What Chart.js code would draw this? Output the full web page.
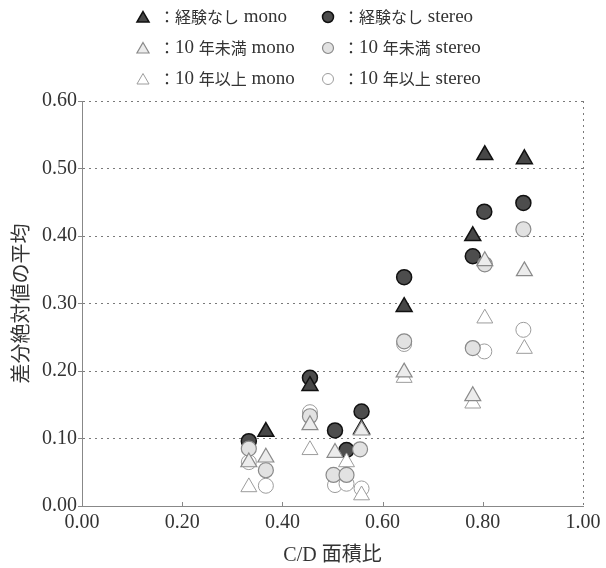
<!DOCTYPE html>
<html>
<head>
<meta charset="utf-8">
<script src="https://cdn.jsdelivr.net/npm/chart.js@4/dist/chart.umd.min.js"></script>
<style>
  html, body { margin: 0; padding: 0; background: #fff; }
  canvas { display: block; }
</style>
</head>
<body>
<canvas id="chart" width="606" height="568"></canvas>
<script>
// Axis ranges (C/D area ratio vs mean absolute difference)
const xTickStep = 0.2;
const yTickStep = 0.1;
const xRange = [0, 1];
const yRange = [0, 0.6];

// Series labels (legend order, row by row)
const seriesLabels = [
  '：経験なし mono',
  '：経験なし stereo',
  '：10 年未満 mono',
  '：10 年未満 stereo',
  '：10 年以上 mono',
  '：10 年以上 stereo'
];

// 経験なし mono
const noneMonoX = [0.367, 0.455, 0.558, 0.643, 0.780, 0.804, 0.883];
const noneMonoY = [0.110, 0.178, 0.114, 0.295, 0.400, 0.520, 0.514];
// 経験なし stereo
const noneStereoX = [0.333, 0.455, 0.505, 0.528, 0.558, 0.643, 0.780, 0.803, 0.881];
const noneStereoY = [0.096, 0.190, 0.112, 0.083, 0.140, 0.339, 0.370, 0.436, 0.449];
// 10 年未満 mono
const under10MonoX = [0.333, 0.367, 0.455, 0.505, 0.558, 0.643, 0.780, 0.804, 0.883];
const under10MonoY = [0.065, 0.072, 0.120, 0.079, 0.112, 0.198, 0.163, 0.363, 0.348];
// 10 年未満 stereo
const under10StereoX = [0.333, 0.367, 0.455, 0.502, 0.528, 0.555, 0.643, 0.780, 0.804, 0.881];
const under10StereoY = [0.085, 0.053, 0.133, 0.046, 0.046, 0.084, 0.244, 0.234, 0.358, 0.410];
// 10 年以上 mono
const over10MonoX = [0.333, 0.455, 0.528, 0.558, 0.643, 0.780, 0.804, 0.883];
const over10MonoY = [0.028, 0.083, 0.065, 0.016, 0.190, 0.152, 0.278, 0.233];
// 10 年以上 stereo
const over10StereoX = [0.333, 0.367, 0.455, 0.505, 0.528, 0.558, 0.643, 0.803, 0.881];
const over10StereoY = [0.065, 0.030, 0.139, 0.031, 0.033, 0.026, 0.240, 0.229, 0.261];

const toPoints = (xs, ys) => xs.map((x, i) => ({ x: x, y: ys[i] }));

const SERIF = "'Liberation Serif', 'Noto Sans CJK JP', serif";
const CJK = "'Noto Sans CJK JP', sans-serif";
const TEXT = '#333';
const AXIS = '#888';

const styles = [
  { pointStyle: 'triangle', radius: 9.2, bg: '#474747', border: '#111', bw: 1.5, order: 3 },
  { pointStyle: 'circle',   radius: 7.5, bg: '#4d4d4d', border: '#111', bw: 1.5, order: 3 },
  { pointStyle: 'triangle', radius: 9.2, bg: '#ececec', border: '#8a8a8a', bw: 1.2, order: 1 },
  { pointStyle: 'circle',   radius: 7.5, bg: '#e2e2e2', border: '#8a8a8a', bw: 1.2, order: 1 },
  { pointStyle: 'triangle', radius: 9.2, bg: '#ffffff', border: '#9c9c9c', bw: 1.0, order: 2 },
  { pointStyle: 'circle',   radius: 7.5, bg: '#ffffff', border: '#9c9c9c', bw: 1.0, order: 2 }
];

const seriesData = [
  toPoints(noneMonoX, noneMonoY),
  toPoints(noneStereoX, noneStereoY),
  toPoints(under10MonoX, under10MonoY),
  toPoints(under10StereoX, under10StereoY),
  toPoints(over10MonoX, over10MonoY),
  toPoints(over10StereoX, over10StereoY)
];

const datasets = seriesData.map((pts, i) => ({
  label: seriesLabels[i],
  data: pts,
  showLine: false,
  pointStyle: styles[i].pointStyle,
  pointRadius: styles[i].radius,
  pointHoverRadius: styles[i].radius,
  backgroundColor: styles[i].bg,
  borderColor: styles[i].border,
  pointBorderWidth: styles[i].bw,
  borderWidth: styles[i].bw,
  order: styles[i].order
}));

// Marker glyph for the legend block
function drawMarker(ctx, style, r, x, y) {
  ctx.save();
  ctx.fillStyle = style.bg;
  ctx.strokeStyle = style.border;
  ctx.lineWidth = style.bw;
  ctx.beginPath();
  if (style.pointStyle === 'triangle') {
    for (let k = 0; k < 3; k++) {
      const a = k * 2 * Math.PI / 3;
      const px = x + Math.sin(a) * r;
      const py = y - Math.cos(a) * r;
      if (k === 0) ctx.moveTo(px, py); else ctx.lineTo(px, py);
    }
    ctx.closePath();
  } else {
    ctx.arc(x, y, r, 0, Math.PI * 2);
  }
  ctx.fill();
  ctx.stroke();
  ctx.restore();
}

// Mixed Japanese / Latin text drawn run by run
function drawRuns(ctx, text, x, y) {
  const re = /[\u3000-\u9fff\uff00-\uffef]+|[^\u3000-\u9fff\uff00-\uffef]+/g;
  const parts = text.match(re) || [];
  for (const p of parts) {
    const isCjk = /[\u3000-\u9fff\uff00-\uffef]/.test(p);
    ctx.font = isCjk ? '16px ' + CJK : '19px ' + SERIF;
    ctx.fillText(p, x, y);
    x += ctx.measureText(p).width;
  }
}

const legendBlock = {
  id: 'legendBlock',
  afterDraw(chart) {
    const ctx = chart.ctx;
    const colMarker = [143, 328];
    const colText = [159, 343];
    const rows = [17, 48, 79];
    ctx.save();
    ctx.textBaseline = 'middle';
    ctx.textAlign = 'left';
    ctx.fillStyle = TEXT;
    chart.data.datasets.forEach((d, i) => {
      const c = i % 2, r = Math.floor(i / 2);
      const st = styles[i];
      drawMarker(ctx, st, st.pointStyle === 'triangle' ? 7 : 5.5, colMarker[c], rows[r] + (st.pointStyle === 'triangle' ? 1.5 : 0));
      ctx.fillStyle = TEXT;
      drawRuns(ctx, d.label, colText[c], rows[r]);
    });
    ctx.restore();
  }
};

// Short inward tick marks along the x axis
const innerTicks = {
  id: 'innerTicks',
  afterDatasetsDraw(chart) {
    const xs = chart.scales.x;
    const ctx = chart.ctx;
    const bottom = chart.chartArea.bottom;
    ctx.save();
    ctx.strokeStyle = AXIS;
    ctx.lineWidth = 1;
    xs.ticks.forEach(t => {
      if (t.value <= xRange[0] + 1e-9 || t.value >= xRange[1] - 1e-9) return;
      const px = Math.round(xs.getPixelForValue(t.value)) + 0.5;
      ctx.beginPath();
      ctx.moveTo(px, bottom);
      ctx.lineTo(px, bottom - 4);
      ctx.stroke();
    });
    ctx.restore();
  }
};

new Chart(document.getElementById('chart'), {
  type: 'scatter',
  data: { datasets: datasets },
  options: {
    responsive: false,
    animation: false,
    devicePixelRatio: 1,
    layout: { padding: { top: 101, right: 23, left: 0, bottom: 0 } },
    plugins: {
      legend: { display: false },
      tooltip: { enabled: false }
    },
    scales: {
      x: {
        type: 'linear',
        min: xRange[0],
        max: xRange[1],
        afterFit: s => { s.height = 62; },
        ticks: {
          stepSize: xTickStep,
          callback: v => Number(v).toFixed(2),
          font: { family: SERIF, size: 20 },
          color: TEXT,
          padding: 5,
          maxRotation: 0
        },
        grid: {
          drawTicks: false,
          color: c => (c.tick && Math.abs(c.tick.value - xRange[1]) < 1e-9) ? '#7a7a7a' : 'rgba(0,0,0,0)',
          lineWidth: 1
        },
        border: { display: true, color: AXIS, width: 1, dash: [2, 4] },
        title: {
          display: true,
          text: 'C/D 面積比',
          font: { family: SERIF, size: 20 },
          color: TEXT,
          padding: { top: 7, bottom: 0 }
        }
      },
      y: {
        type: 'linear',
        min: yRange[0],
        max: yRange[1],
        afterFit: s => { s.width = 82; },
        ticks: {
          stepSize: yTickStep,
          callback: v => Number(v).toFixed(2),
          font: { family: SERIF, size: 20 },
          color: TEXT,
          padding: 1
        },
        grid: {
          color: '#7a7a7a',
          lineWidth: 1,
          tickLength: 4,
          tickColor: AXIS
        },
        border: { display: true, color: AXIS, width: 1, dash: [2, 4] },
        title: {
          display: true,
          text: '差分絶対値の平均',
          font: { family: CJK, size: 20 },
          color: TEXT,
          padding: { top: 8, bottom: 0 }
        }
      }
    }
  },
  plugins: [legendBlock, innerTicks]
});
</script>
</body>
</html>
